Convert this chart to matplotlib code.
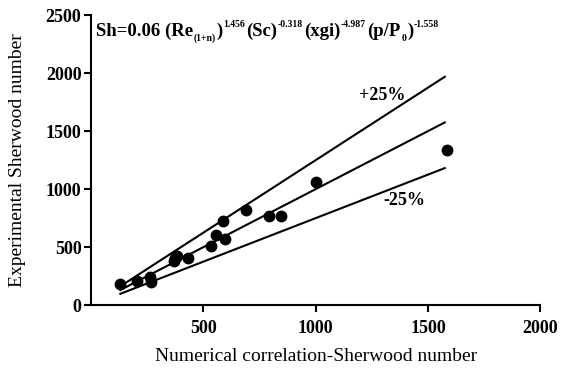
import numpy as np
import matplotlib
matplotlib.use('Agg')
import matplotlib.pyplot as plt

plt.rcParams['font.family'] = ['Liberation Serif', 'DejaVu Serif']

# numerical correlation vs experimental Sherwood number
sh_corr = [129, 203, 263, 265, 371, 374, 382, 429, 534, 557, 589, 598,
           689, 793, 845, 1002, 1583]
sh_exp = [181, 207, 244, 200, 379, 402, 422, 408, 511, 603, 724, 566,
          819, 770, 767, 1063, 1336]

line_x = [130, 1575]
factors = [1.25, 1.0, 0.75]

# correlation text pieces: (text, n=normal / sup / sub)
eq_parts = [('Sh=0.06 (Re', 'n'), ('(1+n)', 'sub'), (')', 'n'),
            ('1.456', 'sup'), ('(Sc)', 'n'), ('-0.318', 'sup'),
            ('(xgi)', 'n'), ('-4.987', 'sup'), ('(p/P', 'n'), ('0', 'sub'),
            (')', 'n'), ('-1.558', 'sup')]

fig = plt.figure(figsize=(5.63, 3.79), dpi=100)
ax = fig.add_axes([0.162, 0.195, 0.7975, 0.765])

xx = np.array(line_x)
for f in factors:
    ax.plot(xx, f * xx, color='black', lw=1.5)

ax.plot(sh_corr, sh_exp, 'o', color='black', ms=7.5)

ax.text(1195, 1810, '+25%', fontsize=13, va='center', fontweight='bold')
ax.text(1300, 905, '-25%', fontsize=13, va='center', fontweight='bold')

# equation built piece by piece so the exponents stay small
first = ax.text(0.01, 0.975, eq_parts[0][0], transform=ax.transAxes,
                fontsize=13.5, va='top', fontweight='bold')
fig.canvas.draw()
prev = first
for txt, kind in eq_parts[1:]:
    if kind == 'n':
        size, dy, dx = 13.5, 0, 0.8
    elif kind == 'sup':
        size, dy, dx = 7, 7.5, 0.4
    else:
        size, dy, dx = 7, -2.5, 0.4
    prev = ax.annotate(txt, xy=(1, 0), xycoords=(prev, first),
                       xytext=(dx, dy), textcoords='offset points',
                       fontsize=size, va='bottom', fontweight='bold')
    fig.canvas.draw()

ax.set_xlim(0, 2000)
ax.set_ylim(0, 2500)
ax.set_xticks([500, 1000, 1500, 2000])
ax.set_yticks([0, 500, 1000, 1500, 2000, 2500])
for s in ['top', 'right']:
    ax.spines[s].set_visible(False)
for s in ['left', 'bottom']:
    ax.spines[s].set_linewidth(1.5)
ax.tick_params(width=1.5, length=5, labelsize=13)
for lab in ax.get_xticklabels() + ax.get_yticklabels():
    lab.set_fontweight('bold')
ax.tick_params(axis='x', pad=6)
ax.tick_params(axis='y', pad=2)

ax.set_xlabel('Numerical correlation-Sherwood number', fontsize=14, labelpad=8)
ax.set_ylabel('Experimental Sherwood number', fontsize=14, labelpad=14)

fig.savefig('out.png', dpi=100)
